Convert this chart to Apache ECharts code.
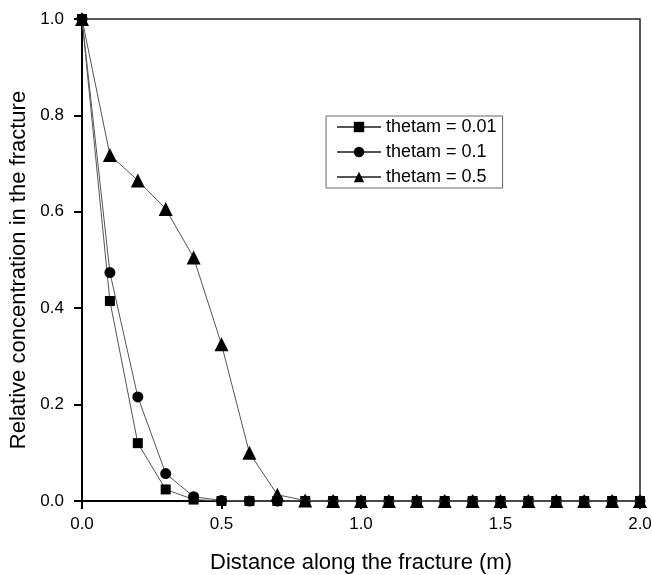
<!DOCTYPE html>
<html>
<head>
<meta charset="utf-8">
<script src="https://cdn.jsdelivr.net/npm/echarts@6/dist/echarts.min.js"></script>
<style>
  html, body { margin: 0; padding: 0; background: #fff; }
  #chart-container { width: 652px; height: 575px; }
</style>
</head>
<body>
<div id="chart-container"></div>
<script>
// distance along the fracture (m)
const distance = [0, 0.1, 0.2, 0.3, 0.4, 0.5, 0.6, 0.7, 0.8, 0.9, 1.0,
                  1.1, 1.2, 1.3, 1.4, 1.5, 1.6, 1.7, 1.8, 1.9, 2.0];
const seriesNames = ['thetam = 0.01', 'thetam = 0.1', 'thetam = 0.5'];
const theta001 = [1.0, 0.415, 0.12, 0.024, 0.003, 0, 0, 0, 0, 0, 0,
                  0, 0, 0, 0, 0, 0, 0, 0, 0, 0];
const theta01  = [1.0, 0.474, 0.216, 0.057, 0.009, 0.001, 0, 0, 0, 0, 0,
                  0, 0, 0, 0, 0, 0, 0, 0, 0, 0];
const theta05  = [1.0, 0.718, 0.665, 0.606, 0.505, 0.325, 0.1, 0.013, 0.001, 0, 0,
                  0, 0, 0, 0, 0, 0, 0, 0, 0, 0];
const symbols = ['rect', 'circle', 'triangle'];
const symbolSizes = [10, 11, 14];

const chartDom = document.getElementById('chart-container');
const myChart = echarts.init(chartDom, null, { renderer: 'canvas' });

const fontFamily = 'Liberation Sans, Arial, sans-serif';

function toPairs(values) {
    return distance.map((d, i) => [d, values[i]]);
}

const seriesValues = [theta001, theta01, theta05];
const series = seriesValues.map((vals, k) => ({
    name: seriesNames[k],
    type: 'line',
    data: toPairs(vals),
    symbol: symbols[k],
    symbolSize: symbolSizes[k],
    showAllSymbol: true,
    clip: false,
    itemStyle: { color: '#000' },
    lineStyle: { color: '#555', width: 1 },
    animation: false,
    z: 3 + k
}));

const option = {
    backgroundColor: '#fff',
    animation: false,
    grid: {
        left: 82, right: 12, top: 19, bottom: 74,
        show: true,
        borderColor: '#222',
        borderWidth: 1.5,
        containLabel: false,
        outerBoundsMode: 'none'
    },
    legend: {
        orient: 'vertical',
        left: 326, top: 116,
        itemWidth: 44, itemHeight: 13,
        itemGap: 7,
        padding: [2, 6, 2, 10],
        borderColor: '#666', borderWidth: 1,
        textStyle: { fontFamily: fontFamily, fontSize: 18, color: '#000' },
        data: seriesNames
    },
    xAxis: {
        type: 'value',
        min: 0, max: 2, interval: 0.5,
        name: 'Distance along the fracture (m)',
        nameLocation: 'middle',
        nameGap: 51,
        nameTextStyle: { fontFamily: fontFamily, fontSize: 22, color: '#000' },
        axisLine: { lineStyle: { color: '#000', width: 2 } },
        axisTick: { inside: false, length: 8, lineStyle: { color: '#000', width: 2 } },
        axisLabel: {
            margin: 15,
            fontFamily: fontFamily, fontSize: 17, color: '#000',
            formatter: v => v.toFixed(1)
        },
        splitLine: { show: false }
    },
    yAxis: {
        type: 'value',
        min: 0, max: 1, interval: 0.2,
        name: 'Relative concentration in the fracture',
        nameLocation: 'middle',
        nameGap: 47,
        nameTextStyle: {
            fontFamily: fontFamily, fontSize: 22, color: '#000',
            padding: [0, 20, 0, 0]
        },
        axisLine: { show: true, lineStyle: { color: '#000', width: 2 } },
        axisTick: { show: true, inside: false, length: 8, lineStyle: { color: '#000', width: 2 } },
        axisLabel: {
            margin: 18,
            fontFamily: fontFamily, fontSize: 17, color: '#000',
            formatter: v => v.toFixed(1)
        },
        splitLine: { show: false }
    },
    series: series
};

myChart.setOption(option);
</script>
</body>
</html>
